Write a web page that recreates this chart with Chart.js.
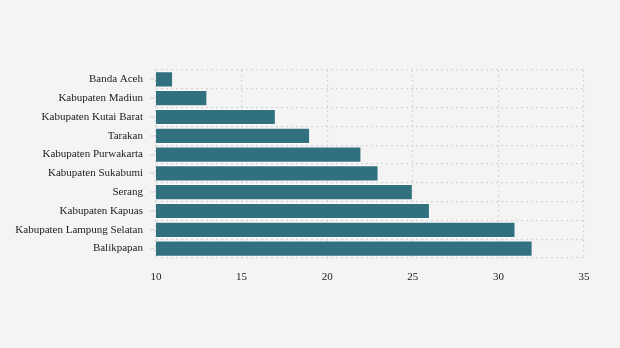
<!DOCTYPE html>
<html>
<head>
<meta charset="utf-8">
<script src="https://cdn.jsdelivr.net/npm/chart.js@4/dist/chart.umd.min.js"></script>
<style>
html,body{margin:0;padding:0;background:#f4f4f4;}
#wrap{width:620px;height:348px;position:relative;}
</style>
</head>
<body>
<div id="wrap"><canvas id="c" width="620" height="348"></canvas></div>
<script>
const categories = ["Banda Aceh","Kabupaten Madiun","Kabupaten Kutai Barat","Tarakan","Kabupaten Purwakarta","Kabupaten Sukabumi","Serang","Kabupaten Kapuas","Kabupaten Lampung Selatan","Balikpapan"];
const values = [11,13,17,19,22,23,25,26,31,32];
const xTicks = [10,15,20,25,30,35];

const tickMarks = {
  id:'tickMarks',
  afterDraw(chart){
    const y = chart.scales.y, ctx = chart.ctx;
    ctx.save();
    ctx.strokeStyle = '#dcdcdc';
    ctx.lineWidth = 1.5;
    categories.forEach((c,i)=>{
      const py = Math.round(y.getPixelForValue(i));
      ctx.beginPath();
      ctx.moveTo(y.right-6, py);
      ctx.lineTo(y.right-1, py);
      ctx.stroke();
    });
    ctx.restore();
  }
};

new Chart(document.getElementById('c'), {
  type:'bar',
  data:{
    labels:categories,
    datasets:[{
      data:values,
      backgroundColor:'#31707f',
      borderColor:'rgba(255,255,255,0.55)',
      borderWidth:1,
      borderSkipped:false,
      categoryPercentage:0.86,
      barPercentage:1
    }]
  },
  options:{
    indexAxis:'y',
    responsive:false,
    animation:false,
    devicePixelRatio:1,
    layout:{padding:{left:0,right:36,top:70,bottom:60}},
    plugins:{legend:{display:false},tooltip:{enabled:false}},
    scales:{
      x:{
        min:10,max:35,
        afterBuildTicks(s){ s.ticks = xTicks.map(v=>({value:v})); },
        afterFit(s){ s.height = 30; },
        border:{display:false,dash:[2,3]},
        grid:{color:'#d6d6d6',lineWidth:1.2,drawTicks:false,tickLength:0},
        ticks:{padding:13,color:'#222',font:{family:'Liberation Serif',size:11},maxRotation:0}
      },
      y:{
        afterFit(s){ s.width = 156; },
        border:{display:false,dash:[2,3]},
        grid:{offset:true,color:'#d6d6d6',lineWidth:1.2,drawTicks:false,tickLength:0},
        ticks:{padding:13,color:'#222',font:{family:'Liberation Serif',size:11}}
      }
    }
  },
  plugins:[tickMarks]
});
</script>
</body>
</html>
